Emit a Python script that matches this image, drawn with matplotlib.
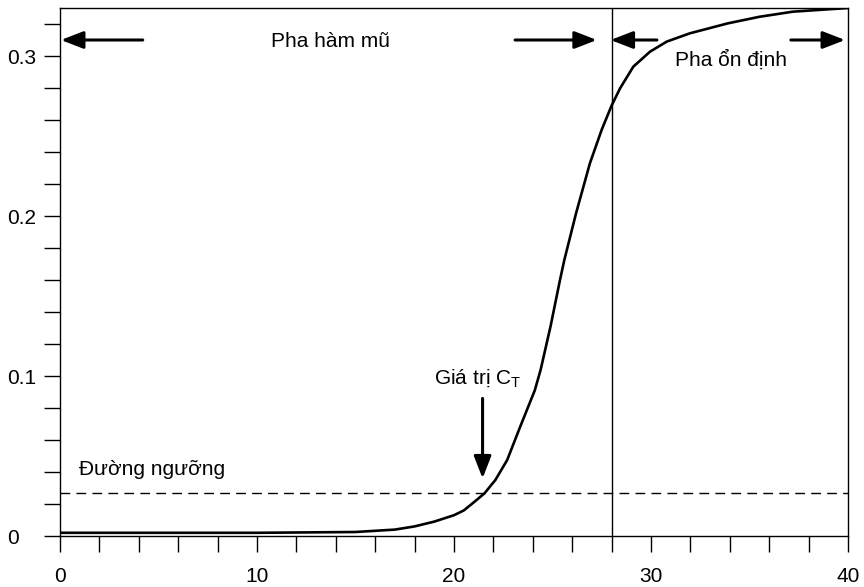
import numpy as np
import matplotlib
matplotlib.use('Agg')
import matplotlib.pyplot as plt
from matplotlib.ticker import MultipleLocator

plt.rcParams['font.family'] = ['Liberation Sans', 'DejaVu Sans']
plt.rcParams['mathtext.fontset'] = 'custom'
plt.rcParams['mathtext.rm'] = 'Liberation Sans'

# amplification curve
cycle = [0, 5, 10, 15, 17, 18, 19, 20, 20.5, 21, 21.55, 22.1, 22.7, 23.35, 24.1, 24.4,
         24.9, 25.38, 25.6, 26.2, 26.9, 27.5, 28.0, 28.43, 29.1, 29.95, 30.8, 31.98,
         33.9, 35.5, 37.2, 40]
signal = [0.002, 0.002, 0.002, 0.0025, 0.004, 0.006, 0.009, 0.013, 0.016, 0.021, 0.0267,
          0.035, 0.0475, 0.068, 0.091, 0.104, 0.131, 0.16, 0.1725, 0.2019, 0.233, 0.254,
          0.269, 0.2798, 0.2933, 0.3027, 0.309, 0.3142, 0.3204, 0.3245, 0.3277, 0.33]

threshold = 0.0267
plateau_start = 28.0
ct_value = 21.45

x_ticks = [0, 10, 20, 30, 40]
y_ticks = [0, 0.1, 0.2, 0.3]
y_labels = ['0', '0.1', '0.2', '0.3']

fig = plt.figure(figsize=(8.64, 5.87), dpi=100)
ax = fig.add_axes([60/864, 51/587, 788/864, 528/587])

ax.plot(cycle, signal, color='black', lw=1.9, solid_capstyle='round', solid_joinstyle='round')
ax.axhline(threshold, color='black', lw=1.0, dashes=(7, 4.5))
ax.axvline(plateau_start, color='black', lw=1.0)

ax.set_xlim(0, 40)
ax.set_ylim(0, 0.33)
ax.set_xticks(x_ticks)
ax.set_yticks(y_ticks)
ax.set_yticklabels(y_labels)
ax.xaxis.set_minor_locator(MultipleLocator(2))
ax.yaxis.set_minor_locator(MultipleLocator(0.02))
ax.tick_params(which='both', direction='out', length=11.5, width=1.0, color='black')
ax.tick_params(axis='x', which='major', pad=11, labelsize=15)
ax.tick_params(axis='y', which='major', pad=26.6, labelsize=15)
for lab in ax.get_yticklabels():
    lab.set_horizontalalignment('left')
for sp in ax.spines.values():
    sp.set_linewidth(1.0)

arrow_kw = dict(arrowstyle='-|>,head_length=0.9,head_width=0.35', color='black', lw=2.2,
                shrinkA=0, shrinkB=0, mutation_scale=15)
arrows = [((4.2, 0.31), (0.05, 0.31)),
          ((23.1, 0.31), (27.25, 0.31)),
          ((30.3, 0.31), (27.95, 0.31)),
          ((37.1, 0.31), (39.85, 0.31)),
          ((ct_value, 0.086), (ct_value, 0.036))]
for start, end in arrows:
    ax.annotate('', xy=end, xytext=start, arrowprops=arrow_kw)

ax.text(13.73, 0.3056, 'Pha hàm mũ', fontsize=15, ha='center', va='baseline')
ax.text(34.05, 0.294, 'Pha ổn định', fontsize=15, ha='center', va='baseline')
ax.text(0.96, 0.038, 'Đường ngưỡng', fontsize=15, ha='left', va='baseline')
ax.text(21.2, 0.095, r'Giá trị C$_\mathrm{T}$', fontsize=15, ha='center', va='baseline')

fig.savefig('out.png', dpi=100)
